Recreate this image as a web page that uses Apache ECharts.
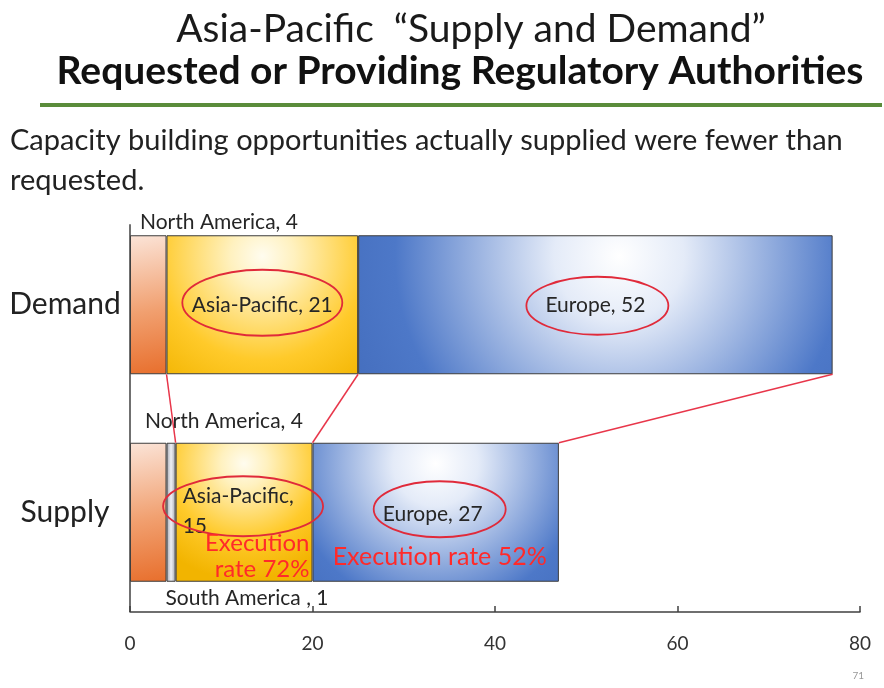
<!DOCTYPE html>
<html><head><meta charset="utf-8">
<script src="https://cdn.jsdelivr.net/npm/echarts@6/dist/echarts.min.js"></script>
<style>html,body{margin:0;padding:0;background:#fff}#c{width:884px;height:688px}</style>
</head><body><div id="c"></div>
<script>
// ---- data ----
const categories = ['Demand', 'Supply'];
const seriesNames = ['North America', 'South America', 'Asia-Pacific', 'Europe'];
const northAmerica = [4, 4];
const southAmerica = [null, 1];
const asiaPacific = [21, 15];
const europe = [52, 27];
const xTickValues = [0, 20, 40, 60, 80];
const titleText = 'Asia-Pacific  \u201cSupply and Demand\u201d';
const subtitleText = 'Requested or Providing Regulatory Authorities';
const bodyLines = ['Capacity building opportunities actually supplied were fewer than', 'requested.'];
const apExecution = 'Execution\nrate 72%';
const euExecution = 'Execution rate 52%';
const pageNumber = '71';

const FONT = 'Lato, "Open Sans", sans-serif';
const values = [northAmerica, southAmerica, asiaPacific, europe];

// ---- styles ----
function radial(x, y, r, stops) {
  return {type: 'radial', x: x, y: y, r: r, colorStops: stops.map(c => ({offset: c[0], color: c[1]}))};
}
const naFill = {type: 'linear', x: 0, y: 0, x2: 0.7, y2: 1, colorStops: [{offset: 0, color: '#fbe4d8'}, {offset: 0.55, color: '#f1a070'}, {offset: 1, color: '#e8702e'}]};
const apStops = [[0, '#fffcef'], [0.2, '#fff1bf'], [0.65, '#ffca2a'], [1, '#f2b400']];
const euStops = [[0, '#ffffff'], [0.18, '#e4ebf8'], [0.62, '#4d78c8'], [1, '#3c64b4']];
const fills = {
  'North America': [naFill, naFill],
  'South America': [null,
    {type: 'linear', x: 0, y: 0, x2: 1, y2: 0, colorStops: [{offset: 0, color: '#a4a6ae'}, {offset: 0.5, color: '#eef0f6'}, {offset: 1, color: '#a4a6ae'}]}
  ],
  'Asia-Pacific': [radial(0.5, 0.15, 1.15, apStops), radial(0.5, 0.15, 0.85, apStops)],
  'Europe': [radial(0.55, 0.15, 2.6, euStops), radial(0.5, 0.15, 1.7, euStops)]
};
const labelFont = {fontFamily: FONT, fontSize: 21, color: '#262626'};
const labels = {
  'North America': [
    {show: true, formatter: '{a}, {c}', position: [10, -13], align: 'left', verticalAlign: 'middle'},
    {show: true, formatter: '{a}, {c}', position: [15, -22], align: 'left', verticalAlign: 'middle'}
  ],
  'South America': [null,
    {show: true, formatter: '{a} , {c}', position: [-1, 155], align: 'left', verticalAlign: 'middle'}
  ],
  'Asia-Pacific': [
    {show: true, formatter: '{a}, {c}', position: 'inside'},
    {show: true, formatter: '{a},\n{c}', position: [7, 38], align: 'left', verticalAlign: 'top', lineHeight: 30}
  ],
  'Europe': [
    {show: true, formatter: '{a}, {c}', position: 'inside'},
    {show: true, formatter: '{a}, {c}', position: 'inside', offset: [-3, 2]}
  ]
};
const BAR_W = 139;

const series = seriesNames.map((name, si) => ({
  name: name,
  type: 'bar',
  stack: 'total',
  barWidth: BAR_W,
  data: values[si].map((v, ci) => v == null ? '-' : {
    value: v,
    itemStyle: {color: fills[name][ci], borderColor: '#3d3d3d', borderWidth: 1},
    label: Object.assign({}, labelFont, labels[name][ci])
  })
}));

const chart = echarts.init(document.getElementById('c'), null, {renderer: 'canvas'});
chart.setOption({
  backgroundColor: '#ffffff',
  animation: false,
  grid: {left: 130, right: 24, top: 201, bottom: 72},
  xAxis: {
    type: 'value', min: 0, max: 80, interval: 20, offset: -4,
    splitLine: {show: false},
    axisLine: {show: true, lineStyle: {color: '#404040', width: 1.5}},
    axisTick: {show: true, inside: true, length: 6, lineStyle: {color: '#404040', width: 1.5}},
    axisLabel: {fontFamily: FONT, fontSize: 19, color: '#333', margin: 22, customValues: xTickValues}
  },
  yAxis: {
    type: 'category', data: categories, inverse: true,
    axisLine: {show: false},
    axisTick: {show: false},
    axisLabel: {fontFamily: FONT, fontSize: 30, color: '#222', margin: 65, align: 'center'}
  },
  series: series
});

// ---- annotations computed from the axes ----
function px(v) { return chart.convertToPixel({xAxisIndex: 0}, v); }
function py(ci) { return chart.convertToPixel({yAxisIndex: 0}, ci); }
function cum(ci, upTo) { let s = 0; for (let i = 0; i <= upTo; i++) { const v = values[i][ci]; if (v != null) s += v; } return s; }
const half = BAR_W / 2;
const red = '#e8364a';
const g = [];
// vertical category axis line (starts just above the first bar, ends at the value axis)
{
  const x0 = px(0), yTop = py(0) - half - 11, yBot = chart.getModel().getComponent('grid', 0).coordinateSystem.getRect();
  g.push({type: 'line', shape: {x1: x0, y1: yTop, x2: x0, y2: yBot.y + yBot.height - 4},
    style: {stroke: '#404040', lineWidth: 1.5}, z: 50});
}
// connecting lines: demand bottom -> supply top
[[0, 1], [2, 2], [3, 3]].forEach(([dS, sS]) => {
  g.push({type: 'line', shape: {x1: px(cum(0, dS)), y1: py(0) + half, x2: px(cum(1, sS)), y2: py(1) - half},
    style: {stroke: red, lineWidth: 1.5}, z: 100});
});
// ellipses around labels
const ellipses = [
  {ci: 0, si: 2, rx: 80, ry: 33, dx: 0, dy: -2},
  {ci: 0, si: 3, rx: 71, ry: 29, dx: 2, dy: 1},
  {ci: 1, si: 2, rx: 80, ry: 30, dx: -1, dy: -6},
  {ci: 1, si: 3, rx: 66, ry: 28, dx: 4, dy: -3}
];
ellipses.forEach(e => {
  const x0 = px(cum(e.ci, e.si - 1)), x1 = px(cum(e.ci, e.si));
  g.push({type: 'ellipse', shape: {cx: (x0 + x1) / 2 + e.dx, cy: py(e.ci) + e.dy, rx: e.rx, ry: e.ry},
    style: {fill: null, stroke: '#e02a3a', lineWidth: 1.8}, z: 100});
});
// execution rate texts
{
  const apRight = px(cum(1, 2));
  g.push({type: 'text', x: apRight - 3, y: py(1) + 44, z: 101,
    style: {text: apExecution, fill: '#ff2a2a', font: '24px ' + FONT, align: 'right', verticalAlign: 'middle', lineHeight: 26}});
  const euMid = (px(cum(1, 2)) + px(cum(1, 3))) / 2;
  g.push({type: 'text', x: euMid + 4, y: py(1) + 45, z: 101,
    style: {text: euExecution, fill: '#ff2a2a', font: '25px ' + FONT, align: 'center', verticalAlign: 'middle'}});
}
// slide texts
g.push({type: 'text', x: 471, y: 29, style: {text: titleText, fill: '#1a1a1a', font: '39px ' + FONT, align: 'center', verticalAlign: 'middle'}});
g.push({type: 'text', x: 460, y: 71, style: {text: subtitleText, fill: '#111', font: 'bold 39px ' + FONT, align: 'center', verticalAlign: 'middle'}});
g.push({type: 'rect', shape: {x: 40, y: 103, width: 842, height: 4}, style: {fill: '#5a8c3a'}});
g.push({type: 'text', x: 10, y: 141, style: {text: bodyLines[0], fill: '#222', font: '29px ' + FONT, align: 'left', verticalAlign: 'middle'}});
g.push({type: 'text', x: 10, y: 181, style: {text: bodyLines[1], fill: '#222', font: '29px ' + FONT, align: 'left', verticalAlign: 'middle'}});
g.push({type: 'text', x: 864, y: 676, style: {text: pageNumber, fill: '#999', font: '10px ' + FONT, align: 'right', verticalAlign: 'middle'}});
chart.setOption({graphic: {elements: g}});
</script>
</body></html>
